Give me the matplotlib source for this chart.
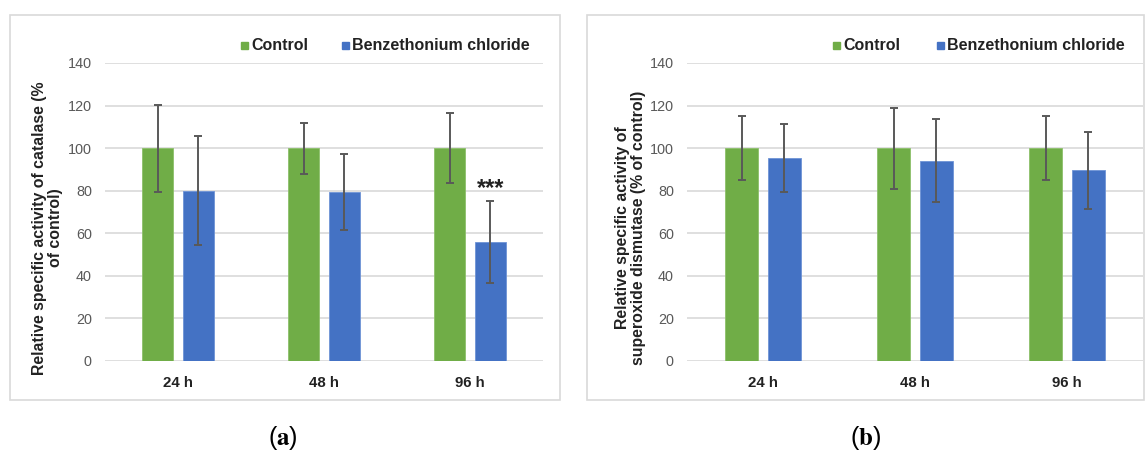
import matplotlib
matplotlib.use("Agg")
import matplotlib.pyplot as plt
import numpy as np
from matplotlib.patches import Rectangle

categories = ["24 h", "48 h", "96 h"]
series_names = ["Control", "Benzethonium chloride"]

cat_control = [100, 100, 100]
cat_control_err = [20.5, 12, 16.5]
cat_bzt = [80, 79.5, 56]
cat_bzt_err = [25.5, 17.8, 19.2]

sod_control = [100, 100, 100]
sod_control_err = [15, 19, 15]
sod_bzt = [95.5, 94, 89.5]
sod_bzt_err = [16, 19.5, 18]

yticks = [0, 20, 40, 60, 80, 100, 120, 140]
ylabel_a = "Relative specific activity of catalase (%\nof control)"
ylabel_b = "Relative specific activity of\nsuperoxide dismutase (% of control)"

GREEN = "#70AD47"
BLUE = "#4472C4"
GRID = "#D9D9D9"
ERR = "#595959"

plt.rcParams["font.family"] = ["Liberation Sans", "DejaVu Sans"]
plt.rcParams["mathtext.fontset"] = "stix"

W, H = 1145, 451
fig = plt.figure(figsize=(W / 100, H / 100), dpi=100)

def px_ax(x0, x1, y0, y1):
    return fig.add_axes([x0 / W, 1 - y1 / H, (x1 - x0) / W, (y1 - y0) / H])

def draw_panel(ax, ctrl, ctrl_err, bzt, bzt_err, ylabel, labelpad, star=None):
    x = np.arange(len(categories))
    bw = 0.215
    off = 0.14
    ax.bar(x - off, ctrl, bw, color=GREEN, edgecolor="#8CC06A", lw=0.6, zorder=2,
           label=series_names[0])
    ax.bar(x + off, bzt, bw, color=BLUE, edgecolor="#6E93D6", lw=0.6, zorder=2,
           label=series_names[1])
    ax.errorbar(x - off, ctrl, yerr=ctrl_err, fmt="none", ecolor=ERR, elinewidth=1.4,
                capsize=3, capthick=1.4, zorder=3)
    ax.errorbar(x + off, bzt, yerr=bzt_err, fmt="none", ecolor=ERR, elinewidth=1.4,
                capsize=3, capthick=1.4, zorder=3)
    ax.set_xlim(-0.5, len(categories) - 0.5)
    ax.set_ylim(0, 140)
    ax.set_yticks(yticks)
    ax.set_xticks(x)
    ax.set_xticklabels(categories, fontsize=10.8, fontweight="bold", color="#222222")
    ax.tick_params(axis="y", length=0, labelsize=10.4, labelcolor="#595959", pad=9.5)
    ax.tick_params(axis="x", length=0, pad=10.5)
    ax.grid(axis="y", color=GRID, lw=1.2, zorder=0)
    ax.set_axisbelow(True)
    for s in ax.spines.values():
        s.set_visible(False)
    ax.set_ylabel(ylabel, fontsize=11.4, fontweight="bold", color="#222222",
                  labelpad=labelpad, linespacing=1.05)
    ax.yaxis.label.set_y(0.446)
    if star is not None:
        i = star
        ax.text(x[i] + off, bzt[i] + bzt_err[i] + 2.8, "***", ha="center",
                va="baseline", fontsize=17, fontweight="bold", color="#222222")

# frames
for (x0, x1) in [(10, 560), (587, 1144)]:
    fig.patches.append(Rectangle((x0 / W, 1 - 400 / H), (x1 - x0) / W, (400 - 15) / H,
                                 transform=fig.transFigure, fill=False,
                                 edgecolor=GRID, lw=1.2))

ax1 = px_ax(105, 543, 63, 361)
draw_panel(ax1, cat_control, cat_control_err, cat_bzt, cat_bzt_err, ylabel_a, 3.8, star=2)
ax2 = px_ax(687, 1143, 63, 361)
draw_panel(ax2, sod_control, sod_control_err, sod_bzt, sod_bzt_err, ylabel_b, 3)

# legends
def legend(xs, ys):
    for (sx, col, name) in zip(xs, [GREEN, BLUE], series_names):
        fig.patches.append(Rectangle((sx / W, 1 - (ys + 3.5) / H), 7 / W, 7 / H,
                                     transform=fig.transFigure, color=col))
        fig.text((sx + 10) / W, 1 - ys / H, name, ha="left", va="center",
                 fontsize=11.5, fontweight="bold", color="#222222")

legend([241, 342], 45)
legend([833, 937], 45)

# panel labels
fig.text(283 / W, 1 - 438 / H, r"($\mathbf{a}$)", ha="center", va="center", fontsize=18)
fig.text(866 / W, 1 - 438 / H, r"($\mathbf{b}$)", ha="center", va="center", fontsize=18)

fig.savefig("out.png", dpi=100, facecolor="white")
